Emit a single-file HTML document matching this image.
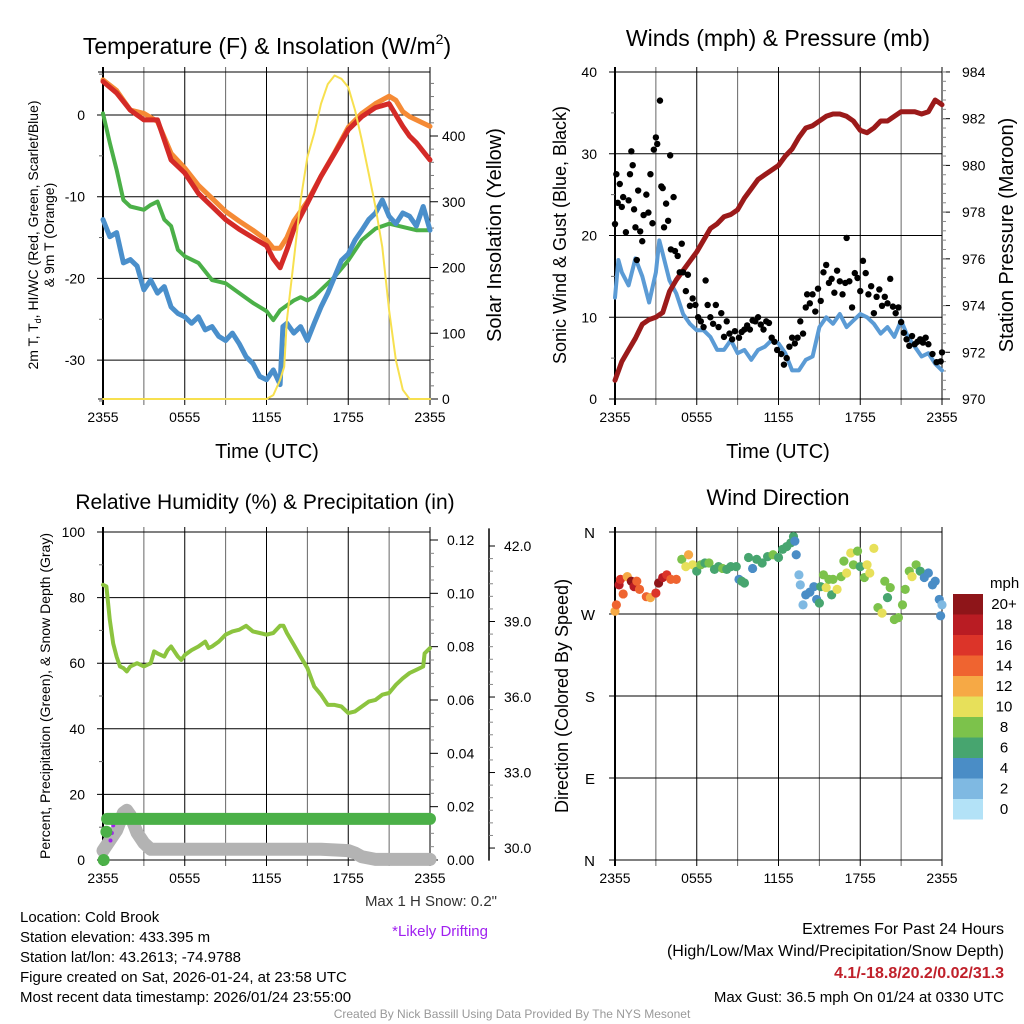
<!DOCTYPE html>
<html><head><meta charset="utf-8"><style>
html,body{margin:0;padding:0;background:#fff}
svg{display:block;font-family:"Liberation Sans",sans-serif}
</style></head><body>
<svg id="c" width="1024" height="1024" viewBox="0 0 1024 1024"></svg>
<script>
// ---------- DATA ----------
const hrsH = [0,1,2,3,4,5,6,7,8,9,10,11,12,12.5,13,13.5,14,15,16,17,18,19,20,21,21.5,22,22.5,23,24];
const tempRed = [4.1,2.7,0.6,-0.6,-0.6,-5.5,-7.1,-9.6,-11.2,-12.8,-14,-15,-16,-17.6,-18.7,-16.5,-14,-10.8,-7.5,-4.7,-1.8,-0.2,0.9,1.4,0,-1.4,-2.6,-3.4,-5.5];
const temp9mOrange = [4.3,3.0,0.6,0.2,-0.8,-4.7,-6.5,-8.6,-10.2,-11.8,-13,-14.1,-15.3,-16.3,-16.3,-15,-13,-10.6,-7.5,-4.6,-1.5,0.2,1.4,2.3,1.8,0.4,-0.2,-0.6,-1.4];
const hrsG = [0,0.5,1,1.5,2,3,3.5,4,4.5,5,5.5,6,7,8,9,10,11,12,12.5,13,13.5,14,14.5,15,15.5,16,17,18,19,20,21,22,23,24];
const windChillGreen = [0.2,-3.4,-6.7,-10.4,-11.2,-11.6,-11,-10.6,-12.8,-13.6,-16.5,-17.3,-18.1,-20.2,-20.6,-21.8,-23,-24,-25.1,-23.9,-23.3,-22.7,-22.3,-22.7,-22.2,-21.4,-19.8,-17.8,-15.3,-13.9,-13.3,-13.7,-14.1,-14.1];
const hrsB = [0,0.5,1,1.5,2,2.5,3,3.5,4,4.5,5,5.5,6,6.5,7,7.5,8,8.5,9,9.5,10,10.5,11,11.5,12,12.5,13,13.2,13.5,14,14.5,15,15.5,16,16.5,17,17.5,18,18.5,19,19.5,20,20.5,21,21.5,22,22.5,23,23.5,24];
const dewBlue = [-12.8,-14.9,-14.4,-18.1,-17.7,-18.5,-21.4,-20.2,-21.8,-21,-23.5,-24.3,-24.7,-25.5,-24.7,-26.3,-25.9,-27.1,-27.6,-26.7,-28,-29.6,-30.4,-32,-32.4,-31.2,-33,-25.9,-25.5,-26.7,-25.9,-27.6,-25.5,-23.5,-21.8,-19.8,-17.8,-17,-15.3,-14.1,-12.8,-12,-10.4,-12.4,-13.3,-12,-12.4,-13.6,-11.2,-14.1];
const hrsY = [0,12,12.5,13,13.3,13.5,14,14.5,15,15.5,16,16.5,17,17.5,18,18.5,19,19.5,20,20.5,21,21.5,22,22.5,24];
const solarYellow = [0,0,6,29,49,120,211,302,368,404,449,479,492,487,474,439,393,343,292,231,135,59,14,0,0];
const tempTicks = [0,-10,-20,-30];
const solarTicks = [0,100,200,300,400];

const hrsW = [0,0.25,0.5,1,1.5,2,2.5,3,3.25,3.5,4,4.5,5,5.5,6,6.5,7,7.5,8,8.5,9,9.5,10,10.5,11,11.5,12,12.5,13,13.5,14,14.5,15,15.5,16,16.5,17,17.5,18,18.5,19,19.5,20,20.5,21,21.5,22,22.5,23,23.5,24];
const windBlue = [12.4,17,15.5,13.9,17.2,15,11.8,15.5,19.4,17.8,14.5,12.9,10.4,9.2,8.4,8.4,7.6,6,6,7.2,5.6,6,4.8,6,6.4,7.2,6.8,5.6,3.5,3.5,4.8,5.2,8.8,10,9.2,10.4,8.8,9.6,10.4,10,9.2,8,8.8,7.6,9.6,7.6,6.4,5.2,5.6,4.3,3.5];
const gustHrs = [0,0.1,0.2,0.35,0.5,0.6,0.8,1,1.1,1.2,1.3,1.4,1.5,1.6,1.7,1.85,2,2.1,2.3,2.45,2.6,2.75,2.85,3,3.1,3.3,3.4,3.5,3.6,3.75,3.9,4.05,4.1,4.3,4.4,4.6,4.75,4.9,5,5.2,5.35,5.5,5.7,5.9,6.1,6.3,6.5,6.65,6.8,7,7.2,7.4,7.6,7.8,8,8.2,8.4,8.6,8.8,9.1,9.3,9.5,9.7,9.9,10.1,10.3,10.5,10.7,10.9,11.1,11.3,11.5,11.7,11.9,12.2,12.4,12.6,12.8,13,13.2,13.4,13.6,13.8,14,14.1,14.3,14.5,14.7,14.9,15.1,15.3,15.5,15.7,15.9,16.1,16.3,16.5,16.7,16.9,17,17.2,17.4,17.6,17.8,18,18.2,18.4,18.6,18.8,19,19.2,19.4,19.6,19.8,20,20.2,20.4,20.6,20.8,21,21.2,21.4,21.6,21.8,22,22.2,22.4,22.6,22.8,23,23.3,23.6,23.9,24];
const gustBlack = [21.4,27.5,24,26.3,23.5,24.7,20.4,24.3,27.5,30.3,28.6,23.2,21,17,25.5,20.5,19.3,22.5,25,22.8,27.5,21.5,30.5,32,31.2,36.5,26,25.8,21,23.9,21.8,29.8,18.3,24.7,18.1,17.5,15.5,19,15.5,13.2,15.2,11.4,12.3,11.5,10,9.5,8.8,14.5,11.5,10,9.2,11.5,8.8,10.5,7.6,9.5,8,7.3,8.3,7.5,8.2,8.5,9,8.5,9.6,9.5,10,9.1,8.5,9.5,9.3,7.5,7,6,5.5,4.2,5,6.4,7.5,6.8,7.5,9.5,8,11.2,12.8,11.7,12.8,10.7,13.5,12,15.5,16.4,14.2,14.7,13,15.7,14.4,12.8,14.2,19.7,14.4,11.2,15.4,14.8,13.2,16.9,15.4,12.8,13.8,10.5,12.5,13.4,11.4,12.5,11.7,14.7,11.3,10.5,11.2,9.4,8.1,7.3,6.5,7.7,6.7,7,7.3,6.9,7.5,6.7,5.5,4.5,4.6,5.7];
const hrsP = [0,0.5,1,1.5,2,2.5,3,3.5,4,4.5,5,5.5,6,6.5,7,7.5,8,8.5,9,9.5,10,10.5,11,11.5,12,12.5,13,13.5,14,14.5,15,15.5,16,16.5,17,17.5,18,18.5,19,19.5,20,20.5,21,21.5,22,22.5,23,23.5,24];
const pressureMaroon = [970.8,971.6,972.1,972.6,973.2,973.4,973.5,973.7,974.6,975.1,975.5,975.9,976.3,976.8,977.3,977.5,977.8,977.9,978.1,978.6,979,979.4,979.6,979.8,980,980.4,980.7,981.2,981.6,981.7,981.9,982.1,982.2,982.2,982.1,981.9,981.5,981.4,981.6,981.9,981.9,982.1,982.3,982.3,982.3,982.2,982.3,982.8,982.6];
const windTicks = [0,10,20,30,40];
const pressTicks = [970,972,974,976,978,980,982,984];

const hrsRH = [0,0.25,0.5,0.75,1,1.25,1.5,1.75,2,2.5,3,3.5,3.75,4,4.5,4.75,5,5.5,5.75,6,6.5,7,7.5,7.75,8,8.5,9,9.5,10,10.5,11,11.5,12,12.5,13,13.25,13.5,14,14.5,15,15.5,16,16.5,17,17.5,18,18.5,19,19.5,20,20.5,21,21.5,22,22.5,23,23.5,23.6,24];
const rhGreen = [83.9,83.4,73.2,66,62,59,58.5,57.5,59,60,59,60,63.6,63,62,64,65.1,62,61,62.5,64,65.1,66.6,64.6,65.1,66.6,68.7,69.7,70.2,71.4,69.7,69.2,68.7,69.2,71.4,71.4,69.2,65.6,62,58.5,52.9,50.4,47.3,47.3,46.8,44.8,45.3,46.8,48.3,48.8,50.4,50.9,53.4,55.4,57,58,59,63,64.6];
const precipHrs = [0.05,0.25,0.3,24];
const precipIn = [0.0,0.0106,0.0154,0.0154];
const snowHrs = [0,0.5,1,1.5,1.75,2,2.5,3,3.5,4,8,12,16,18,18.5,19,20,24];
const snowDepth = [29.9,30.3,30.7,31.4,31.5,31.3,30.6,30.2,29.95,29.95,29.95,29.95,29.95,29.9,29.8,29.65,29.55,29.55];
const driftHrs = [0.55,0.65,0.75];
const driftDepth = [30.3,30.6,30.9];
const rhTicks = [0,20,40,60,80,100];
const precipTicks = [0,0.02,0.04,0.06,0.08,0.10,0.12];
const snowTicks = [30,33,36,39,42];

const dirHrs = [0,0.1,0.3,0.4,0.6,0.9,1.2,1.4,1.6,1.8,2.3,2.6,3,3.2,3.5,3.8,4.1,4.5,4.9,5.2,5.4,5.7,6,6.3,6.6,6.9,7.3,7.6,7.9,8.2,8.5,8.9,9.1,9.3,9.5,9.8,10.1,10.4,10.8,11.2,11.6,12,12.3,12.6,12.9,13.1,13.2,13.3,13.5,13.6,13.8,14,14.3,14.6,14.8,15,15.1,15.3,15.5,15.7,15.9,16,16.3,16.6,16.8,17,17.3,17.5,17.8,18,18.3,18.5,18.7,19,19.3,19.6,19.8,20,20.2,20.5,20.8,21.1,21.3,21.6,21.8,22.1,22.4,22.7,23,23.3,23.5,23.8,23.9,24];
const dirDeg = [273,280,302,308,292,311,306,300,306,297,289,288,293,304,310,313,308,308,330,322,335,324,317,324,326,326,319,322,320,319,322,322,308,306,304,332,320,330,326,333,335,332,341,344,348,355,350,335,313,302,280,291,294,300,286,282,300,313,299,308,291,308,297,311,328,315,337,324,339,322,310,324,315,342,277,271,306,288,299,264,266,280,297,317,311,324,317,310,315,302,306,286,268,280];
const dirSpeed = [13,14,18,17,14,12,21,18,14,14,14,13,17,20,18,17,14,14,9,10,12,10,7,8,7,8,6,7,8,6,6,6,4,6,6,6,4,6,6,6,8,6,6,6,6,6,4,4,2,2,2,4,4,4,4,6,6,8,10,8,6,8,10,8,8,10,10,8,8,6,8,10,10,10,8,10,8,6,8,8,8,8,8,8,10,8,6,4,4,4,4,4,4,2];
const dirTicks = [0,90,180,270,360];
const dirTickLabels = ['N','E','S','W','N'];
const speedBins = ['0','2','4','6','8','10','12','14','16','18','20+'];
const binColors = ['#b3e2f7','#7fb9e2','#4a8dc6','#47a56f','#7cc24b','#e7e05a','#f6a945','#ef6430','#dc3429','#b91c23','#8e1519'];
const timeLabels = ['2355','0555','1155','1755','2355'];
const timeLabelHrs = [0,6,12,18,24];

// ---------- DRAW ----------
const NS='http://www.w3.org/2000/svg';
const svg=document.getElementById('c');
function mk(tag,attrs,parent){const e=document.createElementNS(NS,tag);for(const k in attrs)e.setAttribute(k,attrs[k]);(parent||svg).appendChild(e);return e;}
function txt(s,x,y,size,anchor,extra,parent){const e=mk('text',Object.assign({x:x,y:y,'font-size':size,'text-anchor':anchor||'start',fill:'#000'},extra||{}),parent);e.textContent=s;return e;}
function poly(xs,ys,fx,fy,color,w,name){const p=xs.map((h,i)=>fx(h).toFixed(1)+','+fy(ys[i]).toFixed(1)).join(' ');const e=mk('polyline',{points:p,fill:'none',stroke:color,'stroke-width':w,'stroke-linejoin':'round','stroke-linecap':'round'});return e;}

function frame(P,name){
  const g=mk('g',{});
  for(let h=0;h<=24;h+=3){const x=P.x(h);const major=h%6===0;
    mk('line',{x1:x,y1:P.y0-5,x2:x,y2:P.y1+6,stroke:major?'#000':'#666','stroke-width':h===0?2:1},g);}
  mk('line',{x1:P.x0-5,y1:P.y0,x2:P.x1,y2:P.y0,stroke:'#000','stroke-width':1},g);
  mk('line',{x1:P.x0-5,y1:P.y1,x2:P.x1,y2:P.y1,stroke:'#000','stroke-width':1},g);
  mk('line',{x1:P.x1,y1:P.y0,x2:P.x1,y2:P.y1,stroke:'#000','stroke-width':1},g);
  timeLabelHrs.forEach((h,i)=>{const t=txt(timeLabels[i],P.x(h),P.y1+23,14,'middle',{},g);});
  return g;
}
const W=327/24;
// Panel 1
const P1={x0:103,x1:430,y0:72,y1:399};P1.x=h=>P1.x0+h*W;
const yT=v=>115-v*8.17, yS=w=>399-w*0.6575;
const g1=frame(P1,'temperature-panel');
tempTicks.forEach(v=>{mk('line',{x1:P1.x0-6,y1:yT(v),x2:P1.x1,y2:yT(v),stroke:'#000','stroke-width':1},g1);txt(String(v),P1.x0-18,yT(v)+5,14,'end',{},g1);});
for(let v=5;v>=-35;v-=5){if(v%10)mk('line',{x1:P1.x0-4,y1:yT(v),x2:P1.x0,y2:yT(v),stroke:'#666'},g1);}
solarTicks.forEach(v=>{mk('line',{x1:P1.x1,y1:yS(v),x2:P1.x1+8,y2:yS(v),stroke:'#000'},g1);txt(String(v),P1.x1+12,yS(v)+5,14,'start',{},g1);});
for(let v=20;v<490;v+=20){if(v%100)mk('line',{x1:P1.x1,y1:yS(v),x2:P1.x1+4,y2:yS(v),stroke:'#777'},g1);}
poly(hrsH,temp9mOrange,P1.x,yT,'#f58a35',5,'temp-9m-line');
poly(hrsH,tempRed,P1.x,yT,'#d42a27',5,'temp-2m-line');
poly(hrsG,windChillGreen,P1.x,yT,'#4bb048',4,'windchill-line');
poly(hrsB,dewBlue,P1.x,yT,'#4a8fcb',5,'dewpoint-line');
poly(hrsY,solarYellow,P1.x,yS,'#f7e04f',2,'solar-line');
const t1=txt('',267,54,23,'middle',{});
t1.innerHTML='Temperature (F) &amp; Insolation (W/m<tspan font-size="14" dy="-10">2</tspan><tspan dy="10">)</tspan>';
txt('Time (UTC)',267,458,20,'middle',{});
txt('2m T, T',0,0,14,'middle',{transform:'translate(38,235) rotate(-90)',}).innerHTML='2m T, T<tspan font-size="9" dy="3">d</tspan><tspan dy="-3">, HI/WC (Red, Green, Scarlet/Blue)</tspan>';
txt('& 9m T (Orange)',0,0,14,'middle',{transform:'translate(54,235) rotate(-90)'});
txt('Solar Insolation (Yellow)',0,0,20,'middle',{transform:'translate(501,235) rotate(-90)',});

// Panel 2
const P2={x0:615,x1:942,y0:72,y1:399};P2.x=h=>P2.x0+h*W;
const yW=v=>399-v*8.175, yPr=p=>399-(p-970)*23.36;
const g2=frame(P2,'winds-panel');
windTicks.forEach(v=>{mk('line',{x1:P2.x0-6,y1:yW(v),x2:P2.x1,y2:yW(v),stroke:'#000'},g2);txt(String(v),P2.x0-18,yW(v)+5,14,'end',{},g2);});
for(let v=5;v<40;v+=10)mk('line',{x1:P2.x0-4,y1:yW(v),x2:P2.x0,y2:yW(v),stroke:'#666'},g2);
pressTicks.forEach(v=>{mk('line',{x1:P2.x1,y1:yPr(v),x2:P2.x1+8,y2:yPr(v),stroke:'#000'},g2);txt(String(v),P2.x1+20,yPr(v)+5,14,'start',{},g2);});
for(let v=970.4;v<984;v+=0.4)mk('line',{x1:P2.x1,y1:yPr(v),x2:P2.x1+4,y2:yPr(v),stroke:'#888'},g2);
poly(hrsW,windBlue,P2.x,yW,'#5b9bd5',4,'sonic-wind-line');
poly(hrsP,pressureMaroon,P2.x,yPr,'#9b1a1a',5,'pressure-line');
gustHrs.forEach((h,i)=>{const c=mk('circle',{cx:P2.x(h),cy:yW(gustBlack[i]),r:3.2,fill:'#000'});

});
txt('Winds (mph) & Pressure (mb)',778,46,23,'middle',{});
txt('Time (UTC)',778,458,20,'middle');
txt('Sonic Wind & Gust (Blue, Black)',0,0,18,'middle',{transform:'translate(566,235) rotate(-90)',});
txt('Station Pressure (Maroon)',0,0,20,'middle',{transform:'translate(1013,235) rotate(-90)',});

// Panel 3
const P3={x0:103,x1:430,y0:532,y1:860};P3.x=h=>P3.x0+h*W;
const yRH=v=>860-v*3.28, yPc=p=>860-p*2666.7, ySn=s=>546+(42-s)*25.17;
const g3=frame(P3,'humidity-panel');
rhTicks.forEach(v=>{mk('line',{x1:P3.x0-6,y1:yRH(v),x2:P3.x1,y2:yRH(v),stroke:'#000'},g3);txt(String(v),P3.x0-18,yRH(v)+5,14,'end',{},g3);});
for(let v=10;v<100;v+=20)mk('line',{x1:P3.x0-4,y1:yRH(v),x2:P3.x0,y2:yRH(v),stroke:'#666'},g3);
mk('line',{x1:P3.x1,y1:yPc(0.12)-2,x2:P3.x1,y2:P3.y1,stroke:'#000'},g3);
precipTicks.forEach(v=>{mk('line',{x1:P3.x1,y1:yPc(v),x2:P3.x1+8,y2:yPc(v),stroke:'#000'},g3);txt(v.toFixed(2),P3.x1+17,yPc(v)+5,14,'start',{},g3);});
for(let v=0.005;v<0.12;v+=0.005){if(Math.round(v*1000)%20)mk('line',{x1:P3.x1,y1:yPc(v),x2:P3.x1+4,y2:yPc(v),stroke:'#888'},g3);}
mk('line',{x1:489,y1:ySn(42.7),x2:489,y2:ySn(29.5),stroke:'#000','stroke-width':1.5},g3);
snowTicks.forEach(v=>{mk('line',{x1:489,y1:ySn(v),x2:495,y2:ySn(v),stroke:'#000'},g3);txt(v.toFixed(1),504,ySn(v)+5,14,'start',{},g3);});
for(let v=30.5;v<42.5;v+=0.5){if(v%3)mk('line',{x1:489,y1:ySn(v),x2:493,y2:ySn(v),stroke:'#888'},g3);}
poly(snowHrs,snowDepth,P3.x,ySn,'#b3b3b3',13,'snow-depth-line');
driftHrs.forEach((h,i)=>{const c=mk('circle',{cx:P3.x(h),cy:ySn(driftDepth[i]),r:2,fill:'#a020f0'});

});
poly(precipHrs.slice(2),precipIn.slice(2),P3.x,yPc,'#4bb048',12,'precip-line');
precipHrs.slice(0,2).forEach((h,i)=>{const c=mk('circle',{cx:P3.x(h),cy:yPc(precipIn[i]),r:6,fill:'#4bb048'});

});
poly(hrsRH,rhGreen,P3.x,yRH,'#8cc43f',4,'rh-line');
txt('Relative Humidity (%) & Precipitation (in)',265,509,21,'middle',{});
txt('Percent, Precipitation (Green), & Snow Depth (Gray)',0,0,14,'middle',{transform:'translate(50,696) rotate(-90)',});

// Panel 4
const P4={x0:615,x1:942,y0:532,y1:860};P4.x=h=>P4.x0+h*W;
const yD=d=>860-d*(328/360);
const g4=frame(P4,'wind-direction-panel');
dirTicks.forEach((v,i)=>{mk('line',{x1:P4.x0-6,y1:yD(v),x2:P4.x1,y2:yD(v),stroke:'#000'},g4);txt(dirTickLabels[i],P4.x0-20,yD(v)+6,15,'end',{},g4);});
dirHrs.forEach((h,i)=>{const b=Math.min(10,Math.floor(dirSpeed[i]/2));const c=mk('circle',{cx:P4.x(h),cy:yD(dirDeg[i]),r:4.6,fill:binColors[b]});

});
txt('Wind Direction',778,505,22,'middle',{});
txt('Direction (Colored By Speed)',0,0,18,'middle',{transform:'translate(568,696) rotate(-90)',});
const cb=mk('g',{});
txt('mph',990,588,15,'start',{},cb);
speedBins.forEach((lab,i)=>{const k=10-i;const y=594+i*20.5;mk('rect',{x:953,y:y,width:30,height:20.5,fill:binColors[k]},cb);txt(speedBins[k],1004,y+15,15,'middle',{},cb);});

// Footer
const ft=mk('g',{});
['Location: Cold Brook','Station elevation: 433.395 m','Station lat/lon: 43.2613; -74.9788','Figure created on Sat, 2026-01-24, at 23:58 UTC','Most recent data timestamp: 2026/01/24 23:55:00'].forEach((s,i)=>txt(s,20,922+i*20,15,'start',{},ft));
txt('Max 1 H Snow: 0.2"',497,906,15,'end',{fill:'#333',});
txt('*Likely Drifting',488,936,15,'end',{fill:'#a020f0',});
const ex=mk('g',{});
txt('Extremes For Past 24 Hours',1004,934,16,'end',{},ex);
txt('(High/Low/Max Wind/Precipitation/Snow Depth)',1004,956,16,'end',{},ex);
txt('4.1/-18.8/20.2/0.02/31.3',1004,978,16,'end',{fill:'#c0202a','font-weight':'bold'},ex);
txt('Max Gust: 36.5 mph On 01/24 at 0330 UTC',1004,1002,15,'end',{},ex);
txt('Created By Nick Bassill Using Data Provided By The NYS Mesonet',512,1018,12,'middle',{fill:'#999',});
</script>
</body></html>
